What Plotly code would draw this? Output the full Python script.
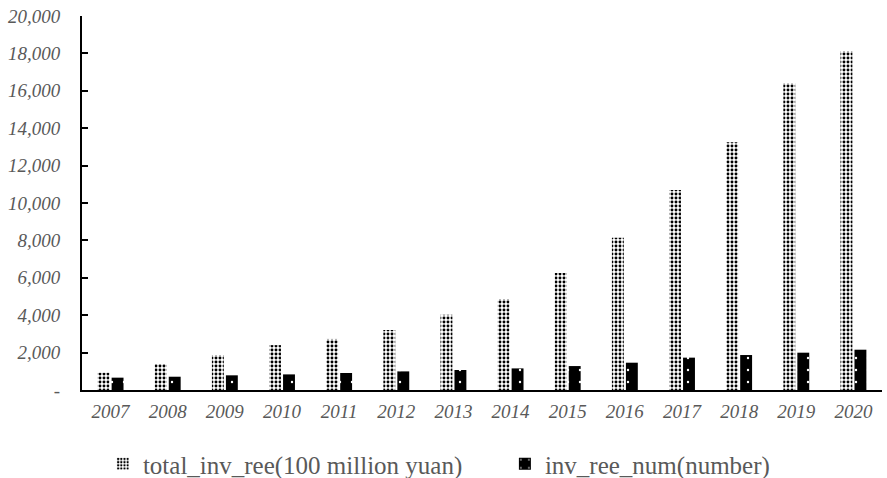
import plotly.graph_objects as go

years = ["2007", "2008", "2009", "2010", "2011", "2012", "2013",
         "2014", "2015", "2016", "2017", "2018", "2019", "2020"]
total_inv_ree = [925, 1390, 1870, 2400, 2730, 3210, 4030,
                 4870, 6260, 8145, 10700, 13250, 16400, 18130]
inv_ree_num = [660, 710, 785, 835, 910, 995, 1070,
               1155, 1280, 1460, 1730, 1870, 1995, 2155]
y_tickvals = [0, 2000, 4000, 6000, 8000, 10000, 12000, 14000, 16000, 18000, 20000]
y_ticktext = ["-", "2,000", "4,000", "6,000", "8,000", "10,000", "12,000",
              "14,000", "16,000", "18,000", "20,000"]

FONT = "Liberation Serif"
GRAY = "#595959"

fig = go.Figure()
fig.add_trace(go.Bar(
    x=years, y=total_inv_ree, name="total_inv_ree(100 million yuan)",
    marker=dict(color="white", line=dict(width=0),
                pattern=dict(shape=".", fgcolor="black", bgcolor="white",
                             size=4, solidity=0.42, fillmode="replace")),
))
fig.add_trace(go.Bar(
    x=years, y=inv_ree_num, name="inv_ree_num(number)",
    marker=dict(color="black", line=dict(width=0),
                pattern=dict(shape=".", fgcolor="white", bgcolor="black",
                             size=12, solidity=0.03, fillmode="replace")),
))

fig.update_layout(
    width=887, height=478,
    margin=dict(l=82, r=5, t=16, b=88, autoexpand=False),
    paper_bgcolor="white", plot_bgcolor="white",
    barmode="group", bargap=0.51, bargroupgap=0.15,
    font=dict(family=FONT, color=GRAY),
    showlegend=True,
    legend=dict(orientation="h", xref="container", yref="container",
                x=0.116, xanchor="left", y=14 / 478, yanchor="middle",
                font=dict(family=FONT, size=25, color=GRAY),
                itemwidth=30, entrywidth=357),
)
fig.update_xaxes(
    showline=True, linecolor="black", linewidth=2, automargin=False,
    showgrid=False, ticks="", ticklabelstandoff=3,
    tickvals=years, ticktext=["<i>" + y + "</i>" for y in years],
    tickfont=dict(family=FONT, size=19, color=GRAY, style="italic"),
)
fig.update_yaxes(
    range=[0, 20000], showline=True, linecolor="black", linewidth=2,
    showgrid=False, zeroline=False, automargin=False,
    ticks="inside", ticklen=6, tickwidth=2, tickcolor="black",
    tickvals=y_tickvals, ticktext=["<i>" + t + "</i>" for t in y_ticktext],
    ticklabelstandoff=16,
    tickfont=dict(family=FONT, size=19, color=GRAY, style="italic"),
)

fig.write_html(
    "out.html",
    config={"displayModeBar": False},
    post_script="document.body.style.margin='0';document.body.style.overflow='hidden';",
)
